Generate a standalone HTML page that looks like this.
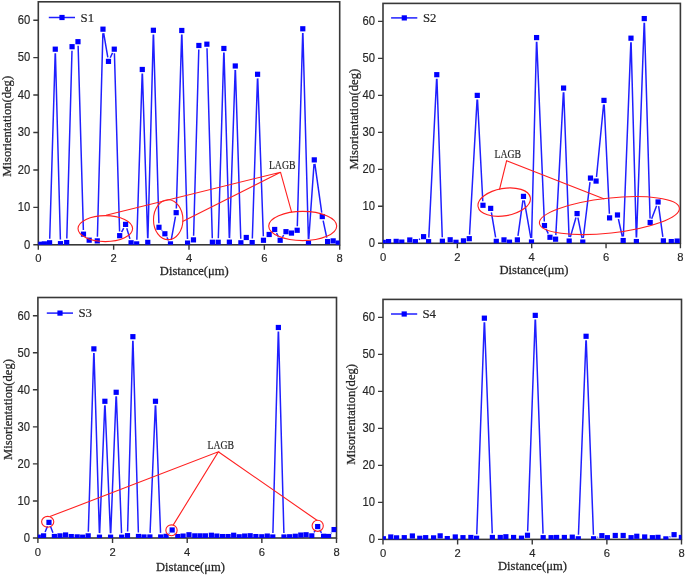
<!DOCTYPE html>
<html><head><meta charset="utf-8"><style>
html,body{margin:0;padding:0;background:#fff;width:685px;height:575px;overflow:hidden}
svg{display:block;filter:blur(0.45px)}
</style></head><body>
<svg width="685" height="575" viewBox="0 0 685 575">
<rect x="38.30" y="1.80" width="301.40" height="243.00" fill="none" stroke="#383838" stroke-width="1.6"/>
<path d="M33.30 244.80H38.30M33.30 207.37H38.30M33.30 169.93H38.30M33.30 132.50H38.30M33.30 95.07H38.30M33.30 57.63H38.30M33.30 20.20H38.30M38.30 244.80V249.80M113.65 244.80V249.80M189.00 244.80V249.80M264.35 244.80V249.80M339.70 244.80V249.80" stroke="#383838" stroke-width="1.4" fill="none"/>
<g font-family="Liberation Sans, sans-serif" font-size="11.25" fill="#262626" stroke="#262626" stroke-width="0.15"><text transform="translate(30.30 248.60) scale(1 1.065)" text-anchor="end">0</text><text transform="translate(30.30 211.17) scale(1 1.065)" text-anchor="end">10</text><text transform="translate(30.30 173.73) scale(1 1.065)" text-anchor="end">20</text><text transform="translate(30.30 136.30) scale(1 1.065)" text-anchor="end">30</text><text transform="translate(30.30 98.87) scale(1 1.065)" text-anchor="end">40</text><text transform="translate(30.30 61.43) scale(1 1.065)" text-anchor="end">50</text><text transform="translate(30.30 24.00) scale(1 1.065)" text-anchor="end">60</text><text transform="translate(38.30 261.70) scale(1 1.03)" text-anchor="middle">0</text><text transform="translate(113.65 261.70) scale(1 1.03)" text-anchor="middle">2</text><text transform="translate(189.00 261.70) scale(1 1.03)" text-anchor="middle">4</text><text transform="translate(264.35 261.70) scale(1 1.03)" text-anchor="middle">6</text><text transform="translate(339.70 261.70) scale(1 1.03)" text-anchor="middle">8</text></g>
<clipPath id="c40"><rect x="38.30" y="1.80" width="301.40" height="243.00"/></clipPath>
<g clip-path="url(#c40)">
<path fill="none" stroke="#1f1fff" stroke-width="1.5" d="M49.72 238.70L55.18 53.30M55.41 53.30L60.39 239.60M66.81 238.50L71.99 50.80M78.12 45.80L83.38 230.10M97.41 236.80L102.89 33.30M103.69 33.24L107.81 57.36M110.26 57.70L112.54 52.90M114.42 53.30L119.58 231.60M121.60 232.07L123.70 228.03M126.77 228.33L129.93 238.87M136.83 239.80L142.17 73.60M142.43 73.60L147.67 238.30M147.91 238.30L153.29 34.40M153.52 34.40L158.88 223.20M161.76 230.34L162.14 230.76M166.89 237.39L168.51 240.31M171.24 239.87L175.46 216.73M176.33 208.60L181.67 34.60M181.91 34.60L187.49 239.00M193.61 235.80L198.79 49.60M207.01 48.30L212.29 238.20M218.32 238.20L223.78 52.60M224.02 52.60L229.28 238.10M229.54 238.10L235.16 70.10M235.43 70.10L240.77 238.70M252.33 238.50L257.47 78.40M257.75 78.40L263.35 236.20M276.56 233.15L278.34 236.65M282.49 236.90L283.71 235.10M297.31 226.20L302.69 32.90M302.91 32.90L308.39 239.00M308.79 239.01L314.01 163.99M314.87 163.96L321.73 212.54M323.15 220.61L326.75 237.59"/>
<g fill="#0000ff"><rect x="36.98" y="241.68" width="5.2" height="5.2"/><rect x="41.77" y="241.28" width="5.2" height="5.2"/><rect x="46.98" y="240.18" width="5.2" height="5.2"/><rect x="52.67" y="46.58" width="5.2" height="5.2"/><rect x="57.88" y="241.07" width="5.2" height="5.2"/><rect x="64.08" y="239.97" width="5.2" height="5.2"/><rect x="69.47" y="44.08" width="5.2" height="5.2"/><rect x="75.38" y="39.08" width="5.2" height="5.2"/><rect x="80.88" y="231.57" width="5.2" height="5.2"/><rect x="86.58" y="237.57" width="5.2" height="5.2"/><rect x="94.67" y="238.28" width="5.2" height="5.2"/><rect x="100.38" y="26.57" width="5.2" height="5.2"/><rect x="105.88" y="58.77" width="5.2" height="5.2"/><rect x="111.67" y="46.58" width="5.2" height="5.2"/><rect x="117.08" y="233.07" width="5.2" height="5.2"/><rect x="122.97" y="221.78" width="5.2" height="5.2"/><rect x="128.47" y="240.18" width="5.2" height="5.2"/><rect x="134.07" y="241.28" width="5.2" height="5.2"/><rect x="139.68" y="66.88" width="5.2" height="5.2"/><rect x="145.18" y="239.78" width="5.2" height="5.2"/><rect x="150.78" y="27.68" width="5.2" height="5.2"/><rect x="156.38" y="224.68" width="5.2" height="5.2"/><rect x="162.28" y="231.18" width="5.2" height="5.2"/><rect x="167.88" y="241.28" width="5.2" height="5.2"/><rect x="173.57" y="210.07" width="5.2" height="5.2"/><rect x="179.18" y="27.88" width="5.2" height="5.2"/><rect x="184.97" y="240.47" width="5.2" height="5.2"/><rect x="190.88" y="237.28" width="5.2" height="5.2"/><rect x="196.28" y="42.88" width="5.2" height="5.2"/><rect x="204.28" y="41.58" width="5.2" height="5.2"/><rect x="209.78" y="239.68" width="5.2" height="5.2"/><rect x="215.57" y="239.68" width="5.2" height="5.2"/><rect x="221.28" y="45.88" width="5.2" height="5.2"/><rect x="226.78" y="239.57" width="5.2" height="5.2"/><rect x="232.68" y="63.38" width="5.2" height="5.2"/><rect x="238.28" y="240.18" width="5.2" height="5.2"/><rect x="243.68" y="234.88" width="5.2" height="5.2"/><rect x="249.57" y="239.97" width="5.2" height="5.2"/><rect x="254.98" y="71.67" width="5.2" height="5.2"/><rect x="260.88" y="237.68" width="5.2" height="5.2"/><rect x="266.57" y="231.88" width="5.2" height="5.2"/><rect x="272.07" y="226.88" width="5.2" height="5.2"/><rect x="277.57" y="237.68" width="5.2" height="5.2"/><rect x="283.38" y="229.07" width="5.2" height="5.2"/><rect x="288.88" y="230.47" width="5.2" height="5.2"/><rect x="294.57" y="227.68" width="5.2" height="5.2"/><rect x="300.18" y="26.18" width="5.2" height="5.2"/><rect x="305.88" y="240.47" width="5.2" height="5.2"/><rect x="311.68" y="157.28" width="5.2" height="5.2"/><rect x="319.68" y="213.97" width="5.2" height="5.2"/><rect x="324.98" y="238.97" width="5.2" height="5.2"/><rect x="330.57" y="238.28" width="5.2" height="5.2"/><rect x="335.57" y="240.47" width="5.2" height="5.2"/></g>
</g>
<path d="M48.8 17.5H75.0" stroke="#1f1fff" stroke-width="1.5"/>
<rect x="59.4" y="14.9" width="5.2" height="5.2" fill="#0000ff"/>
<text transform="translate(80.6 21.5)" font-family="Liberation Serif, serif" font-size="12.8" fill="#262626" stroke="#262626" stroke-width="0.2">S1</text>
<text transform="translate(194.3 274.8) scale(1 1.07)" font-family="Liberation Serif, serif" font-size="12.6" fill="#262626" stroke="#262626" stroke-width="0.25" text-anchor="middle">Distance(μm)</text>
<text transform="translate(10.9 126.3) rotate(-90) scale(1.01 1.08)" font-family="Liberation Serif, serif" font-size="12.5" fill="#262626" stroke="#262626" stroke-width="0.25" text-anchor="middle">Misorientation(deg)</text>
<rect x="383.00" y="3.40" width="297.40" height="239.90" fill="none" stroke="#383838" stroke-width="1.6"/>
<path d="M378.00 243.30H383.00M378.00 206.32H383.00M378.00 169.33H383.00M378.00 132.35H383.00M378.00 95.37H383.00M378.00 58.38H383.00M378.00 21.40H383.00M383.00 243.30V248.30M457.35 243.30V248.30M531.70 243.30V248.30M606.05 243.30V248.30M680.40 243.30V248.30" stroke="#383838" stroke-width="1.4" fill="none"/>
<g font-family="Liberation Sans, sans-serif" font-size="11.25" fill="#262626" stroke="#262626" stroke-width="0.15"><text transform="translate(375.00 247.10) scale(1 1.065)" text-anchor="end">0</text><text transform="translate(375.00 210.12) scale(1 1.065)" text-anchor="end">10</text><text transform="translate(375.00 173.13) scale(1 1.065)" text-anchor="end">20</text><text transform="translate(375.00 136.15) scale(1 1.065)" text-anchor="end">30</text><text transform="translate(375.00 99.17) scale(1 1.065)" text-anchor="end">40</text><text transform="translate(375.00 62.18) scale(1 1.065)" text-anchor="end">50</text><text transform="translate(375.00 25.20) scale(1 1.065)" text-anchor="end">60</text><text transform="translate(383.00 260.80) scale(1 1.03)" text-anchor="middle">0</text><text transform="translate(457.35 260.80) scale(1 1.03)" text-anchor="middle">2</text><text transform="translate(531.70 260.80) scale(1 1.03)" text-anchor="middle">4</text><text transform="translate(606.05 260.80) scale(1 1.03)" text-anchor="middle">6</text><text transform="translate(680.40 260.80) scale(1 1.03)" text-anchor="middle">8</text></g>
<clipPath id="c386"><rect x="383.00" y="3.40" width="297.40" height="239.90"/></clipPath>
<g clip-path="url(#c386)">
<path fill="none" stroke="#1f1fff" stroke-width="1.5" d="M418.90 239.57L420.10 238.83M428.80 237.60L436.60 78.80M436.94 78.80L442.26 237.20M469.53 234.61L477.07 99.49M477.51 99.49L482.79 201.21M491.39 212.44L495.61 237.36M517.97 235.84L522.93 200.46M524.21 200.44L530.79 237.96M531.60 237.90L536.50 41.70M536.77 41.70L544.33 221.50M546.24 229.31L548.26 233.59M555.82 235.11L563.38 92.19M563.75 92.20L569.05 237.00M570.33 237.16L575.97 217.54M577.90 217.62L582.00 238.08M583.29 238.03L590.01 182.17M596.50 177.02L603.60 104.48M604.20 104.50L609.40 213.80M618.39 219.00L622.31 236.60M623.36 236.50L630.84 42.30M631.11 42.30L636.29 237.50M636.55 237.50L644.15 22.70M644.42 22.70L650.08 218.40M651.67 218.67L656.63 205.83M658.65 206.06L662.85 236.84"/>
<g fill="#0000ff"><rect x="380.68" y="239.78" width="5.2" height="5.2"/><rect x="385.98" y="238.97" width="5.2" height="5.2"/><rect x="393.57" y="238.78" width="5.2" height="5.2"/><rect x="399.18" y="239.47" width="5.2" height="5.2"/><rect x="407.18" y="237.38" width="5.2" height="5.2"/><rect x="412.77" y="239.07" width="5.2" height="5.2"/><rect x="420.98" y="234.07" width="5.2" height="5.2"/><rect x="425.98" y="239.07" width="5.2" height="5.2"/><rect x="434.18" y="72.08" width="5.2" height="5.2"/><rect x="439.77" y="238.68" width="5.2" height="5.2"/><rect x="447.57" y="237.18" width="5.2" height="5.2"/><rect x="453.38" y="239.68" width="5.2" height="5.2"/><rect x="460.88" y="238.28" width="5.2" height="5.2"/><rect x="466.68" y="236.07" width="5.2" height="5.2"/><rect x="474.68" y="92.78" width="5.2" height="5.2"/><rect x="480.38" y="202.68" width="5.2" height="5.2"/><rect x="488.07" y="205.78" width="5.2" height="5.2"/><rect x="493.68" y="238.78" width="5.2" height="5.2"/><rect x="501.38" y="237.28" width="5.2" height="5.2"/><rect x="506.88" y="239.57" width="5.2" height="5.2"/><rect x="514.77" y="237.28" width="5.2" height="5.2"/><rect x="520.88" y="193.78" width="5.2" height="5.2"/><rect x="528.88" y="239.38" width="5.2" height="5.2"/><rect x="533.98" y="34.98" width="5.2" height="5.2"/><rect x="541.88" y="222.97" width="5.2" height="5.2"/><rect x="547.38" y="234.68" width="5.2" height="5.2"/><rect x="552.98" y="236.57" width="5.2" height="5.2"/><rect x="560.98" y="85.47" width="5.2" height="5.2"/><rect x="566.58" y="238.47" width="5.2" height="5.2"/><rect x="574.48" y="210.97" width="5.2" height="5.2"/><rect x="580.17" y="239.47" width="5.2" height="5.2"/><rect x="587.88" y="175.47" width="5.2" height="5.2"/><rect x="593.48" y="178.47" width="5.2" height="5.2"/><rect x="601.38" y="97.78" width="5.2" height="5.2"/><rect x="606.98" y="215.28" width="5.2" height="5.2"/><rect x="614.88" y="212.38" width="5.2" height="5.2"/><rect x="620.58" y="237.97" width="5.2" height="5.2"/><rect x="628.38" y="35.58" width="5.2" height="5.2"/><rect x="633.77" y="238.97" width="5.2" height="5.2"/><rect x="641.67" y="15.98" width="5.2" height="5.2"/><rect x="647.58" y="219.88" width="5.2" height="5.2"/><rect x="655.48" y="199.38" width="5.2" height="5.2"/><rect x="660.77" y="238.28" width="5.2" height="5.2"/><rect x="668.67" y="238.97" width="5.2" height="5.2"/><rect x="674.58" y="238.47" width="5.2" height="5.2"/></g>
</g>
<path d="M391.1 17.9H417.3" stroke="#1f1fff" stroke-width="1.5"/>
<rect x="401.7" y="15.3" width="5.2" height="5.2" fill="#0000ff"/>
<text transform="translate(422.9 21.9)" font-family="Liberation Serif, serif" font-size="12.8" fill="#262626" stroke="#262626" stroke-width="0.2">S2</text>
<text transform="translate(534.0 274.4) scale(1 1.07)" font-family="Liberation Serif, serif" font-size="12.6" fill="#262626" stroke="#262626" stroke-width="0.25" text-anchor="middle">Distance(μm)</text>
<text transform="translate(358.0 119.2) rotate(-90) scale(1.01 1.08)" font-family="Liberation Serif, serif" font-size="12.5" fill="#262626" stroke="#262626" stroke-width="0.25" text-anchor="middle">Misorientation(deg)</text>
<rect x="37.90" y="297.50" width="298.60" height="240.50" fill="none" stroke="#383838" stroke-width="1.6"/>
<path d="M32.90 538.00H37.90M32.90 500.95H37.90M32.90 463.90H37.90M32.90 426.85H37.90M32.90 389.80H37.90M32.90 352.75H37.90M32.90 315.70H37.90M37.90 538.00V543.00M112.55 538.00V543.00M187.20 538.00V543.00M261.85 538.00V543.00M336.50 538.00V543.00" stroke="#383838" stroke-width="1.4" fill="none"/>
<g font-family="Liberation Sans, sans-serif" font-size="11.25" fill="#262626" stroke="#262626" stroke-width="0.15"><text transform="translate(29.90 541.80) scale(1 1.065)" text-anchor="end">0</text><text transform="translate(29.90 504.75) scale(1 1.065)" text-anchor="end">10</text><text transform="translate(29.90 467.70) scale(1 1.065)" text-anchor="end">20</text><text transform="translate(29.90 430.65) scale(1 1.065)" text-anchor="end">30</text><text transform="translate(29.90 393.60) scale(1 1.065)" text-anchor="end">40</text><text transform="translate(29.90 356.55) scale(1 1.065)" text-anchor="end">50</text><text transform="translate(29.90 319.50) scale(1 1.065)" text-anchor="end">60</text><text transform="translate(37.90 555.80) scale(1 1.03)" text-anchor="middle">0</text><text transform="translate(112.55 555.80) scale(1 1.03)" text-anchor="middle">2</text><text transform="translate(187.20 555.80) scale(1 1.03)" text-anchor="middle">4</text><text transform="translate(261.85 555.80) scale(1 1.03)" text-anchor="middle">6</text><text transform="translate(336.50 555.80) scale(1 1.03)" text-anchor="middle">8</text></g>
<clipPath id="c335"><rect x="37.90" y="297.50" width="298.60" height="240.50"/></clipPath>
<g clip-path="url(#c335)">
<path fill="none" stroke="#1f1fff" stroke-width="1.5" d="M45.12 532.09L47.48 526.21M50.47 526.23L52.93 532.67M88.32 531.80L93.78 353.00M94.02 353.00L99.38 533.10M99.66 533.10L104.74 405.40M105.07 405.40L110.43 533.10M110.76 533.10L116.04 396.40M116.36 396.40L121.54 533.10M127.61 531.60L132.79 340.80M133.01 340.80L138.39 532.40M150.07 532.90L155.33 405.40M155.66 405.40L160.54 532.90M168.93 533.43L169.37 532.97M174.85 533.13L175.15 533.47M272.91 532.90L278.29 331.60M278.51 331.60L283.89 532.90M314.00 532.44L315.50 530.06M319.83 530.10L321.47 532.80M331.16 533.29L331.54 532.81"/>
<g fill="#0000ff"><rect x="35.67" y="534.58" width="5.2" height="5.2"/><rect x="40.98" y="533.27" width="5.2" height="5.2"/><rect x="46.38" y="519.77" width="5.2" height="5.2"/><rect x="51.77" y="533.88" width="5.2" height="5.2"/><rect x="57.38" y="533.27" width="5.2" height="5.2"/><rect x="62.97" y="532.38" width="5.2" height="5.2"/><rect x="68.67" y="533.98" width="5.2" height="5.2"/><rect x="74.58" y="534.27" width="5.2" height="5.2"/><rect x="80.08" y="534.58" width="5.2" height="5.2"/><rect x="85.58" y="533.27" width="5.2" height="5.2"/><rect x="91.28" y="346.27" width="5.2" height="5.2"/><rect x="96.88" y="534.58" width="5.2" height="5.2"/><rect x="102.28" y="398.68" width="5.2" height="5.2"/><rect x="107.97" y="534.58" width="5.2" height="5.2"/><rect x="113.58" y="389.68" width="5.2" height="5.2"/><rect x="119.08" y="534.58" width="5.2" height="5.2"/><rect x="124.88" y="533.08" width="5.2" height="5.2"/><rect x="130.28" y="334.07" width="5.2" height="5.2"/><rect x="135.88" y="533.88" width="5.2" height="5.2"/><rect x="141.38" y="534.38" width="5.2" height="5.2"/><rect x="147.28" y="534.38" width="5.2" height="5.2"/><rect x="152.88" y="398.68" width="5.2" height="5.2"/><rect x="158.07" y="534.38" width="5.2" height="5.2"/><rect x="163.47" y="533.77" width="5.2" height="5.2"/><rect x="169.57" y="527.38" width="5.2" height="5.2"/><rect x="175.18" y="533.98" width="5.2" height="5.2"/><rect x="180.47" y="533.48" width="5.2" height="5.2"/><rect x="186.38" y="532.17" width="5.2" height="5.2"/><rect x="192.18" y="533.27" width="5.2" height="5.2"/><rect x="197.47" y="533.27" width="5.2" height="5.2"/><rect x="202.78" y="533.27" width="5.2" height="5.2"/><rect x="208.78" y="532.67" width="5.2" height="5.2"/><rect x="214.28" y="533.48" width="5.2" height="5.2"/><rect x="219.97" y="533.98" width="5.2" height="5.2"/><rect x="225.47" y="533.98" width="5.2" height="5.2"/><rect x="231.07" y="532.67" width="5.2" height="5.2"/><rect x="236.57" y="534.17" width="5.2" height="5.2"/><rect x="242.07" y="533.48" width="5.2" height="5.2"/><rect x="247.57" y="533.17" width="5.2" height="5.2"/><rect x="253.28" y="533.98" width="5.2" height="5.2"/><rect x="259.18" y="534.17" width="5.2" height="5.2"/><rect x="264.68" y="533.48" width="5.2" height="5.2"/><rect x="270.18" y="534.38" width="5.2" height="5.2"/><rect x="275.77" y="324.88" width="5.2" height="5.2"/><rect x="281.38" y="534.38" width="5.2" height="5.2"/><rect x="287.07" y="534.17" width="5.2" height="5.2"/><rect x="292.68" y="533.67" width="5.2" height="5.2"/><rect x="298.18" y="532.48" width="5.2" height="5.2"/><rect x="303.48" y="532.17" width="5.2" height="5.2"/><rect x="309.18" y="533.27" width="5.2" height="5.2"/><rect x="315.07" y="523.98" width="5.2" height="5.2"/><rect x="320.98" y="533.67" width="5.2" height="5.2"/><rect x="325.98" y="533.88" width="5.2" height="5.2"/><rect x="331.48" y="526.98" width="5.2" height="5.2"/></g>
</g>
<path d="M46.8 313.1H73.0" stroke="#1f1fff" stroke-width="1.5"/>
<rect x="57.4" y="310.5" width="5.2" height="5.2" fill="#0000ff"/>
<text transform="translate(78.4 317.1)" font-family="Liberation Serif, serif" font-size="12.8" fill="#262626" stroke="#262626" stroke-width="0.2">S3</text>
<text transform="translate(190.5 570.8) scale(1 1.07)" font-family="Liberation Serif, serif" font-size="12.6" fill="#262626" stroke="#262626" stroke-width="0.25" text-anchor="middle">Distance(μm)</text>
<text transform="translate(11.5 409.5) rotate(-90) scale(1.01 1.08)" font-family="Liberation Serif, serif" font-size="12.5" fill="#262626" stroke="#262626" stroke-width="0.25" text-anchor="middle">Misorientation(deg)</text>
<rect x="383.00" y="299.40" width="298.50" height="240.00" fill="none" stroke="#383838" stroke-width="1.6"/>
<path d="M378.00 539.40H383.00M378.00 502.40H383.00M378.00 465.40H383.00M378.00 428.40H383.00M378.00 391.40H383.00M378.00 354.40H383.00M378.00 317.40H383.00M383.00 539.40V544.40M457.62 539.40V544.40M532.25 539.40V544.40M606.88 539.40V544.40M681.50 539.40V544.40" stroke="#383838" stroke-width="1.4" fill="none"/>
<g font-family="Liberation Sans, sans-serif" font-size="11.25" fill="#262626" stroke="#262626" stroke-width="0.15"><text transform="translate(375.00 543.20) scale(1 1.065)" text-anchor="end">0</text><text transform="translate(375.00 506.20) scale(1 1.065)" text-anchor="end">10</text><text transform="translate(375.00 469.20) scale(1 1.065)" text-anchor="end">20</text><text transform="translate(375.00 432.20) scale(1 1.065)" text-anchor="end">30</text><text transform="translate(375.00 395.20) scale(1 1.065)" text-anchor="end">40</text><text transform="translate(375.00 358.20) scale(1 1.065)" text-anchor="end">50</text><text transform="translate(375.00 321.20) scale(1 1.065)" text-anchor="end">60</text><text transform="translate(383.00 556.70) scale(1 1.03)" text-anchor="middle">0</text><text transform="translate(457.62 556.70) scale(1 1.03)" text-anchor="middle">2</text><text transform="translate(532.25 556.70) scale(1 1.03)" text-anchor="middle">4</text><text transform="translate(606.88 556.70) scale(1 1.03)" text-anchor="middle">6</text><text transform="translate(681.50 556.70) scale(1 1.03)" text-anchor="middle">8</text></g>
<clipPath id="c682"><rect x="383.00" y="299.40" width="298.50" height="240.00"/></clipPath>
<g clip-path="url(#c682)">
<path fill="none" stroke="#1f1fff" stroke-width="1.5" d="M476.75 534.20L484.25 322.30M484.55 322.30L492.25 533.40M527.65 531.20L535.15 319.50M535.45 319.50L543.05 533.60M578.46 534.70L585.94 340.40M586.25 340.40L593.45 534.70M597.44 537.37L598.06 537.13M669.55 537.03L670.45 536.57"/>
<g fill="#0000ff"><rect x="380.77" y="536.17" width="5.2" height="5.2"/><rect x="388.18" y="534.38" width="5.2" height="5.2"/><rect x="393.98" y="535.27" width="5.2" height="5.2"/><rect x="401.68" y="535.08" width="5.2" height="5.2"/><rect x="409.77" y="533.38" width="5.2" height="5.2"/><rect x="417.18" y="535.67" width="5.2" height="5.2"/><rect x="423.07" y="535.08" width="5.2" height="5.2"/><rect x="430.98" y="535.27" width="5.2" height="5.2"/><rect x="437.57" y="533.27" width="5.2" height="5.2"/><rect x="444.68" y="535.98" width="5.2" height="5.2"/><rect x="452.68" y="534.38" width="5.2" height="5.2"/><rect x="460.38" y="535.08" width="5.2" height="5.2"/><rect x="468.27" y="534.88" width="5.2" height="5.2"/><rect x="473.98" y="535.67" width="5.2" height="5.2"/><rect x="481.77" y="315.57" width="5.2" height="5.2"/><rect x="489.77" y="534.88" width="5.2" height="5.2"/><rect x="497.68" y="534.88" width="5.2" height="5.2"/><rect x="503.27" y="534.17" width="5.2" height="5.2"/><rect x="510.98" y="534.88" width="5.2" height="5.2"/><rect x="518.88" y="535.58" width="5.2" height="5.2"/><rect x="524.88" y="532.67" width="5.2" height="5.2"/><rect x="532.67" y="312.77" width="5.2" height="5.2"/><rect x="540.58" y="535.08" width="5.2" height="5.2"/><rect x="548.48" y="535.08" width="5.2" height="5.2"/><rect x="553.98" y="534.88" width="5.2" height="5.2"/><rect x="561.77" y="534.88" width="5.2" height="5.2"/><rect x="569.67" y="534.58" width="5.2" height="5.2"/><rect x="575.67" y="536.17" width="5.2" height="5.2"/><rect x="583.48" y="333.68" width="5.2" height="5.2"/><rect x="590.98" y="536.17" width="5.2" height="5.2"/><rect x="599.27" y="533.08" width="5.2" height="5.2"/><rect x="604.77" y="535.08" width="5.2" height="5.2"/><rect x="612.67" y="532.88" width="5.2" height="5.2"/><rect x="620.58" y="532.88" width="5.2" height="5.2"/><rect x="628.48" y="535.08" width="5.2" height="5.2"/><rect x="634.17" y="533.67" width="5.2" height="5.2"/><rect x="642.08" y="534.38" width="5.2" height="5.2"/><rect x="649.77" y="535.08" width="5.2" height="5.2"/><rect x="655.38" y="534.77" width="5.2" height="5.2"/><rect x="663.27" y="536.27" width="5.2" height="5.2"/><rect x="671.48" y="532.08" width="5.2" height="5.2"/><rect x="678.77" y="534.88" width="5.2" height="5.2"/></g>
</g>
<path d="M391.0 314.0H417.2" stroke="#1f1fff" stroke-width="1.5"/>
<rect x="401.6" y="311.4" width="5.2" height="5.2" fill="#0000ff"/>
<text transform="translate(422.5 318.0)" font-family="Liberation Serif, serif" font-size="12.8" fill="#262626" stroke="#262626" stroke-width="0.2">S4</text>
<text transform="translate(532.4 570.0) scale(1 1.07)" font-family="Liberation Serif, serif" font-size="12.6" fill="#262626" stroke="#262626" stroke-width="0.25" text-anchor="middle">Distance(μm)</text>
<text transform="translate(354.5 414.4) rotate(-90) scale(1.01 1.08)" font-family="Liberation Serif, serif" font-size="12.5" fill="#262626" stroke="#262626" stroke-width="0.25" text-anchor="middle">Misorientation(deg)</text>
<text transform="translate(268.90 168.60) scale(0.74 1)" font-family="Liberation Serif, serif" font-size="13.2" fill="#262626" stroke="#262626" stroke-width="0.2">LAGB</text>
<g fill="none" stroke="#ff2020" stroke-width="1.1">
<path d="M106 215.2L280.5 172.2L182.6 221.5M280.5 172.2L291.6 212.2"/>
<ellipse cx="105.3" cy="228.6" rx="27.3" ry="13.0"/>
<ellipse cx="168.2" cy="219.8" rx="14.7" ry="20"/>
<ellipse cx="302.7" cy="226" rx="34" ry="14.65"/>
</g>
<text transform="translate(494.50 157.60) scale(0.74 1)" font-family="Liberation Serif, serif" font-size="13.2" fill="#262626" stroke="#262626" stroke-width="0.2">LAGB</text>
<g fill="none" stroke="#ff2020" stroke-width="1.1">
<path d="M499.5 189.5L506.6 160.8L604.3 198.9"/>
<ellipse cx="504.2" cy="202.1" rx="26.5" ry="13.7" transform="rotate(-9.7 504.2 202.1)"/>
<ellipse cx="609.4" cy="215.6" rx="70.4" ry="17.5" transform="rotate(-6.2 609.4 215.6)"/>
</g>
<text transform="translate(207.50 449.00) scale(0.74 1)" font-family="Liberation Serif, serif" font-size="13.2" fill="#262626" stroke="#262626" stroke-width="0.2">LAGB</text>
<g fill="none" stroke="#ff2020" stroke-width="1.1">
<path d="M49.9 516.6L218.3 451.8L173 525.4M218.3 451.8L317.3 520.5"/>
<ellipse cx="47.7" cy="521.8" rx="6.1" ry="5.4"/>
<ellipse cx="171.5" cy="530.3" rx="5.65" ry="5.45"/>
<ellipse cx="317.7" cy="525.8" rx="5.6" ry="5.6"/>
</g>
</svg>
</body></html>
